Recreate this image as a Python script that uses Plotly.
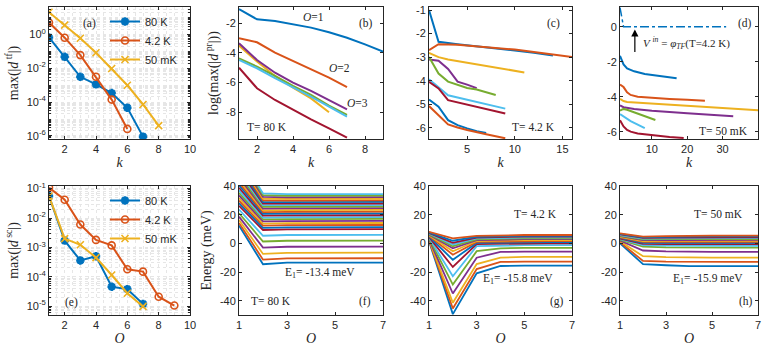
import plotly.graph_objects as go

# MATLAB default colour order
C = ['#0072BD', '#D95319', '#EDB120', '#7E2F8E', '#77AC30', '#4DBEEE', '#A2142F']

# ---------------- (a) max|d_tf| vs k ----------------
k_a_80K = [1, 2, 3, 4, 5, 6, 7]
a_80K = [6.5e-1, 4.7e-2, 3.1e-3, 1.1e-3, 3.4e-4, 4.6e-5, 9.1e-7]
k_a_42K = [1, 2, 3, 4, 5, 6]
a_42K = [4.9e0, 6.3e-1, 5.9e-2, 3.1e-3, 1.4e-4, 2.6e-6]
k_a_50mK = [1, 2, 3, 4, 5, 6, 7, 8]
a_50mK = [2.0e1, 3.5e0, 5.8e-1, 8.1e-2, 9.5e-3, 9.8e-4, 7.2e-5, 4.1e-6]

# ---------------- (b) T = 80 K ----------------
b_k = [[1, 2, 3, 4, 5, 6, 7, 8, 9],
       [1, 2, 3, 4, 5, 6, 7],
       [1, 2, 3, 4, 5, 6],
       [1, 2, 3, 4, 5, 6, 7],
       [1, 2, 3, 4, 5, 6, 7],
       [1, 2, 3, 4, 5, 6, 7],
       [1, 2, 3, 4, 5, 6, 7]]
b_val = [[-1.05, -1.73, -1.84, -2.04, -2.29, -2.6, -2.97, -3.42, -3.9],
         [-3.0, -3.28, -3.98, -4.54, -5.1, -5.66, -6.31],
         [-3.5, -4.58, -5.55, -6.34, -7.06, -8.0],
         [-3.35, -4.47, -5.33, -6.0, -6.56, -7.17, -7.8],
         [-4.36, -4.92, -5.55, -6.22, -6.83, -7.55, -8.18],
         [-4.47, -5.03, -5.7, -6.31, -6.94, -7.62, -8.29],
         [-4.99, -6.38, -7.17, -7.84, -8.47, -9.08, -9.71]]
b_col = [0, 1, 2, 3, 4, 5, 6]

# ---------------- (c) T = 4.2 K ----------------
c_k = [[1, 2, 4, 6, 8, 10, 12, 14],
       [1, 2, 4, 6, 8, 10, 12, 14, 16],
       [1, 2, 3, 5, 7, 9, 11],
       [1, 2, 3, 4, 5, 6],
       [1, 2, 3, 4, 5, 6, 7, 8],
       [1, 2, 3, 4, 6, 9],
       [1, 2, 3, 4, 6, 9],
       [1, 2, 3, 4, 5, 6, 7],
       [1, 2, 3, 4, 5, 7, 9]]
c_val = [[-1.0, -2.35, -2.45, -2.53, -2.62, -2.72, -2.82, -2.93],
         [-2.7, -2.45, -2.47, -2.53, -2.6, -2.68, -2.78, -2.88, -3.0],
         [-2.82, -3.0, -3.1, -3.23, -3.37, -3.51, -3.65],
         [-3.1, -3.15, -3.5, -4.04, -4.17, -4.32],
         [-3.0, -3.7, -4.04, -4.19, -4.31, -4.38, -4.49, -4.61],
         [-3.94, -4.27, -4.62, -4.72, -4.9, -5.19],
         [-4.05, -4.33, -4.83, -4.93, -5.1, -5.4],
         [-4.8, -5.11, -5.68, -5.89, -6.03, -6.15, -6.22],
         [-5.08, -5.46, -5.86, -5.99, -6.1, -6.28, -6.45]]
c_col = [0, 1, 2, 3, 4, 5, 6, 0, 1]

# ---------------- (d) T = 50 mK ----------------
d_k = [[1, 2, 3, 5, 8, 12, 17],
       [1, 2, 3, 4, 6, 10, 15, 20, 25],
       [1, 2, 3, 10, 20, 30, 40],
       [1, 2, 5, 10, 20, 33],
       [1, 2, 3, 5, 8, 11],
       [1, 2, 3, 4, 6, 8],
       [1, 2, 3, 4, 6, 10, 15, 19]]
d_val = [[-1.66, -2.15, -2.38, -2.55, -2.7, -2.83, -2.95],
         [-3.3, -3.45, -3.75, -3.9, -4.0, -4.07, -4.13, -4.18, -4.23],
         [-4.13, -4.25, -4.3, -4.4, -4.53, -4.65, -4.78],
         [-4.5, -4.6, -4.7, -4.8, -4.95, -5.12],
         [-4.8, -4.7, -4.75, -4.9, -5.1, -5.33],
         [-5.0, -5.15, -5.3, -5.4, -5.6, -5.8],
         [-5.35, -5.7, -5.9, -6.0, -6.1, -6.2, -6.3, -6.36]]
d_col = [0, 1, 2, 3, 4, 5, 6]
vin_k = [1, 2, 31]
vin_val = [1.1, 0.0, 0.0]

# ---------------- (e) max|d_sc| vs O ----------------
O_e_80K = [1, 2, 3, 4, 5, 6, 7]
e_80K = [5.6e-2, 1.7e-3, 3.6e-4, 5.0e-4, 4.6e-5, 3.8e-5, 1.2e-5]
O_e_42K = [1, 2, 3, 4, 5, 6, 7, 8, 9]
e_42K = [1.08e-1, 4.2e-2, 6.0e-3, 1.8e-3, 1.17e-3, 1.8e-4, 1.5e-4, 2.1e-5, 1.05e-5]
O_e_50mK = [1, 2, 3, 4, 5, 6, 7]
e_50mK = [5.6e-2, 2.0e-3, 1.23e-3, 4.5e-4, 1.15e-4, 2.75e-5, 9.8e-6]

# ---------------- (f)-(h) energy levels vs O ----------------
O_levels = [1, 2, 3, 4, 5, 6, 7]
f_O1 = [12.4, 14.2, 16.3, 18.6, 21.0, 23.6, 26.2, 28.0, 29.8, 31.6, 33.4, 35.2, 37.0, 38.8,
        40.6, 42.4, 44.2, 46.0, 47.8, 49.6, 51.4, 53.2, 55.0, 56.8, 58.6, 60.4, 62.2]
f_O2 = [-14.6, -11.4, -7.4, -3.0, 1.3, 5.3, 9.3, 10.8, 12.4, 13.8, 15.3, 16.7, 18.0, 19.3,
        20.6, 21.8, 23.0, 24.2, 25.4, 26.6, 27.7, 28.8, 30.0, 31.2, 32.4, 33.6, 34.8]
f_O3 = [-13.5, -10.5, -6.6, -2.4, 1.8, 5.8, 9.8, 11.2, 12.7, 14.1, 15.5, 16.9, 18.2, 19.5,
        20.8, 22.0, 23.2, 24.4, 25.5, 26.6, 27.7, 28.8, 29.9, 31.0, 32.1, 33.2, 34.3]
f_rest = [-13.4, -10.4, -6.5, -2.3, 1.9, 5.9, 9.9, 11.3, 12.8, 14.2, 15.6, 17.0, 18.3, 19.6,
          20.9, 22.1, 23.3, 24.5, 25.6, 26.7, 27.8, 28.9, 30.0, 31.1, 32.2, 33.3, 34.4]

g_O1 = [1.5, 2.0, 2.5, 3.0, 3.5, 4.0, 4.4, 4.8, 5.2, 5.6, 6.0, 6.4, 6.8, 7.2, 7.6, 8.0]
g_O2 = [-49.4, -45.5, -41.5, -35.0, -28.8, -23.0, -16.5, -11.5, -8.0, -5.5, -3.5, -2.0,
        -0.8, 0.4, 1.8, 3.5]
g_O3 = [-20.9, -18.0, -14.5, -10.0, -5.5, -2.0, -0.5, 0.3, 1.0, 1.6, 2.2, 2.8, 3.4, 4.0, 4.6, 5.2]
g_O4 = [-15.8, -13.0, -10.0, -6.0, -3.5, -1.5, -0.2, 0.6, 1.3, 2.0, 2.7, 3.3, 3.9, 4.5, 5.0, 5.6]
g_rest = [-15.6, -12.8, -9.5, -5.8, -3.2, -1.3, 0.0, 0.8, 1.5, 2.2, 2.9, 3.5, 4.1, 4.7, 5.2, 5.8]

h_O1 = [0.0, 0.8, 1.5, 2.0, 2.5, 3.0, 3.4, 3.8, 4.2, 4.6, 5.0, 5.4, 5.8, 6.2, 6.6, 7.0]
h_O2 = [-14.5, -12.3, -9.0, -5.0, -2.3, -1.3, -0.4, 0.3, 1.0, 1.6, 2.2, 2.8, 3.3, 3.8, 4.2, 4.7]
h_O3 = [-15.3, -12.8, -9.6, -5.6, -2.8, -1.6, -0.5, 0.3, 1.0, 1.7, 2.3, 2.9, 3.5, 4.0, 4.5, 5.0]
h_rest = [-15.9, -13.0, -10.0, -6.0, -3.0, -1.8, -0.6, 0.3, 1.0, 1.7, 2.4, 3.0, 3.6, 4.2, 4.8, 5.4]

W, H = 763, 354
INK = '#262626'
SANS = 'Liberation Sans'
SERIF = 'Liberation Serif'

fig = go.Figure()


def line(x, y, color, ax, width=2, dash='solid'):
    fig.add_trace(go.Scatter(x=x, y=y, mode='lines', line=dict(color=color, width=width, dash=dash),
                             xaxis='x' + ax, yaxis='y' + ax, showlegend=False))


def marked(x, y, color, ax, name, symbol, legend, lw=1.6):
    fig.add_trace(go.Scatter(x=x, y=y, mode='lines+markers', name=name, legend=legend,
                             line=dict(color=color, width=2),
                             marker=dict(symbol=symbol, size=7, color=color,
                                         line=dict(color=color, width=lw)),
                             xaxis='x' + ax, yaxis='y' + ax))


# (a)
marked(k_a_80K, a_80K, C[0], '', '80 K', 'asterisk-open', 'legend', lw=2.6)
marked(k_a_42K, a_42K, C[1], '', '4.2 K', 'circle-open', 'legend')
marked(k_a_50mK, a_50mK, C[2], '', '50 mK', 'x-thin-open', 'legend')
# (b)
for kk, vv, ci in zip(b_k, b_val, b_col):
    line(kk, vv, C[ci], '2')
# (c)
for kk, vv, ci in zip(c_k, c_val, c_col):
    line(kk, vv, C[ci], '3')
# (d)
line(vin_k, vin_val, C[0], '4', width=1.5, dash='dashdot')
for kk, vv, ci in zip(d_k, d_val, d_col):
    line(kk, vv, C[ci], '4')
# (e)
marked(O_e_80K, e_80K, C[0], '5', '80 K', 'asterisk-open', 'legend2', lw=2.6)
marked(O_e_42K, e_42K, C[1], '5', '4.2 K', 'circle-open', 'legend2')
marked(O_e_50mK, e_50mK, C[2], '5', '50 mK', 'x-thin-open', 'legend2')
# (f)-(h)
for ax, cols in (('6', (f_O1, f_O2, f_O3, f_rest, f_rest, f_rest, f_rest)),
                 ('7', (g_O1, g_O2, g_O3, g_O4, g_rest, g_rest, g_rest)),
                 ('8', (h_O1, h_O2, h_O3, h_rest, h_rest, h_rest, h_rest))):
    for i in range(len(cols[0])):
        line(O_levels, [c[i] for c in cols], C[i % 7], ax, width=1.8)

# ---------------- axes ----------------
cols_px = [(49, 190), (239, 383), (429, 572), (620, 758)]
rows_px = [(7, 139), (186, 315)]


def dom_x(c):
    return [cols_px[c][0] / W, cols_px[c][1] / W]


def dom_y(r):
    return [1 - rows_px[r][1] / H, 1 - rows_px[r][0] / H]


def base(**kw):
    d = dict(showline=True, linecolor=INK, linewidth=1, mirror='ticks', ticks='inside',
             ticklen=3, tickcolor=INK, tickfont=dict(family=SANS, size=11, color=INK),
             zeroline=False, showgrid=False, automargin=False, ticklabeloverflow='allow')
    d.update(kw)
    return d


def lbl(vals):
    return [str(v) for v in vals]


xt_a = [2, 4, 6, 8, 10]
yt_a = [1e-6, 1e-4, 1e-2, 1e0]
yt_a_txt = ['10<sup>-6</sup>', '10<sup>-4</sup>', '10<sup>-2</sup>', '10<sup>0</sup>']
yt_e = [1e-5, 1e-4, 1e-3, 1e-2, 1e-1]
yt_e_txt = ['10<sup>-5</sup>', '10<sup>-4</sup>', '10<sup>-3</sup>', '10<sup>-2</sup>', '10<sup>-1</sup>']
yt_b = [-8, -6, -4, -2]
yt_c = [-6, -5, -4, -3, -2, -1]
xt_c = [5, 10, 15]
yt_d = [-6, -4, -2, 0]
xt_d = [10, 20, 30]
xt_f = [1, 3, 5, 7]
yt_f = [-40, -20, 0, 20, 40]

GRID = '#e6e6e6'
log_minor = [m * 10.0 ** p for p in range(-8, 3) for m in range(1, 10)]
title_font = dict(family=SERIF, size=14, color=INK)


def grid_x(**kw):
    return base(showgrid=True, gridcolor=GRID, griddash='dot', gridwidth=1,
                minor=dict(dtick=0.5, showgrid=True, gridcolor=GRID, griddash='dot', ticks=''), **kw)


def grid_logy(tv, tt, rng, **kw):
    return base(type='log', range=rng, tickvals=tv, ticktext=tt, showgrid=True, gridcolor=GRID,
                griddash='dot', minor=dict(tickmode='array', tickvals=log_minor, ticks='inside',
                                           ticklen=2, tickcolor=INK, showgrid=True,
                                           gridcolor=GRID, griddash='dot'), **kw)


kt = dict(text='<i>k</i>', font=title_font, standoff=2)
ot = dict(text='<i>O</i>', font=title_font, standoff=2)
legend_style = dict(xanchor='left', yanchor='top', bgcolor='rgba(255,255,255,0)', borderwidth=0,
                    itemwidth=30, font=dict(family=SANS, size=11, color=INK), tracegroupgap=0)

layout = dict(
    width=W, height=H, margin=dict(l=0, r=0, t=0, b=0, autoexpand=False),
    paper_bgcolor='white', plot_bgcolor='white',
    xaxis=grid_x(domain=dom_x(0), anchor='y', range=[1, 10], tickvals=xt_a, title=kt),
    yaxis=grid_logy(yt_a, yt_a_txt, [-6.18, 1.61], domain=dom_y(0), anchor='x',
                    title=dict(text='max(|<i>d</i><sup> tf</sup>|)', font=title_font, standoff=4)),
    xaxis2=base(domain=dom_x(1), anchor='y2', range=[1, 9], tickvals=[2, 4, 6, 8], title=kt),
    yaxis2=base(domain=dom_y(0), anchor='x2', range=[-9.8, -0.9], tickvals=yt_b, ticktext=lbl(yt_b),
                title=dict(text='log(max(|<i>d</i><sup> pr</sup>|))', font=title_font, standoff=4)),
    xaxis3=base(domain=dom_x(2), anchor='y3', range=[1, 16], tickvals=xt_c, title=kt),
    yaxis3=base(domain=dom_y(0), anchor='x3', range=[-6.48, -0.87], tickvals=yt_c, ticktext=lbl(yt_c)),
    xaxis4=base(domain=dom_x(3), anchor='y4', range=[1, 40], tickvals=xt_d, title=kt),
    yaxis4=base(domain=dom_y(0), anchor='x4', range=[-6.42, 1.13], tickvals=yt_d, ticktext=lbl(yt_d)),
    xaxis5=grid_x(domain=dom_x(0), anchor='y5', range=[1, 10], tickvals=xt_a, title=ot),
    yaxis5=grid_logy(yt_e, yt_e_txt, [-5.3, -0.91], domain=dom_y(1), anchor='x5',
                     title=dict(text='max(|<i>d</i><sup> sc</sup>|)', font=title_font, standoff=4)),
    xaxis6=base(domain=dom_x(1), anchor='y6', range=[1, 7], tickvals=xt_f, title=ot),
    yaxis6=base(domain=dom_y(1), anchor='x6', range=[-50, 40], tickvals=yt_f, ticktext=lbl(yt_f),
                title=dict(text='Energy (meV)', font=title_font, standoff=4)),
    xaxis7=base(domain=dom_x(2), anchor='y7', range=[1, 7], tickvals=xt_f, title=ot),
    yaxis7=base(domain=dom_y(1), anchor='x7', range=[-50, 40], tickvals=yt_f, ticktext=lbl(yt_f)),
    xaxis8=base(domain=dom_x(3), anchor='y8', range=[1, 7], tickvals=xt_f, title=ot),
    yaxis8=base(domain=dom_y(1), anchor='x8', range=[-50, 40], tickvals=yt_f, ticktext=lbl(yt_f)),
    legend=dict(x=105 / W, y=1 - 7 / H, **legend_style),
    legend2=dict(x=105 / W, y=1 - 186 / H, **legend_style),
)
fig.update_layout(**layout)

# ---------------- annotations ----------------
notes = [
    ('(a)', 89, 23), ('(b)', 366, 23), ('<i>O</i>=1', 313, 17), ('<i>O</i>=2', 339, 68),
    ('<i>O</i>=3', 357, 103), ('T= 80 K', 267, 127), ('(c)', 553, 23), ('T= 4.2 K', 533, 127),
    ('(d)', 745, 23), ('T= 50 mK', 723, 131), ('(e)', 71, 302),
    ('E<sub>1</sub>= -13.4 meV', 320, 273), ('T= 80 K', 271, 301), ('(f)', 365, 301),
    ('T= 4.2 K', 535, 214), ('E<sub>1</sub>= -15.8 meV', 518, 279), ('(g)', 557, 301),
    ('T= 50 mK', 718, 214), ('E<sub>1</sub>= -15.9 meV', 708, 279), ('(h)', 746, 301),
]
for txt, px, py in notes:
    fig.add_annotation(text=txt, x=px / W, y=1 - py / H, xref='paper', yref='paper',
                       xanchor='center', yanchor='middle', showarrow=False,
                       font=dict(family=SERIF, size=11.5, color=INK))

fig.add_annotation(text='<i>V</i> <sup><i>in</i></sup> = <i>φ</i><sub><i>TF</i></sub>(T=4.2 K)',
                   x=641 / W, y=1 - 43 / H, xref='paper', yref='paper', xanchor='left',
                   yanchor='middle', showarrow=False, font=dict(family=SERIF, size=11, color=INK))
fig.add_annotation(x=5.2, y=-0.15, xref='x4', yref='y4', text='', showarrow=True,
                   ax=0, ay=24, arrowhead=2, arrowsize=1.2, arrowwidth=1.2, arrowcolor='black')

fig.write_html("out.html", config={'displayModeBar': False},
               post_script="document.body.style.margin='0px';")
